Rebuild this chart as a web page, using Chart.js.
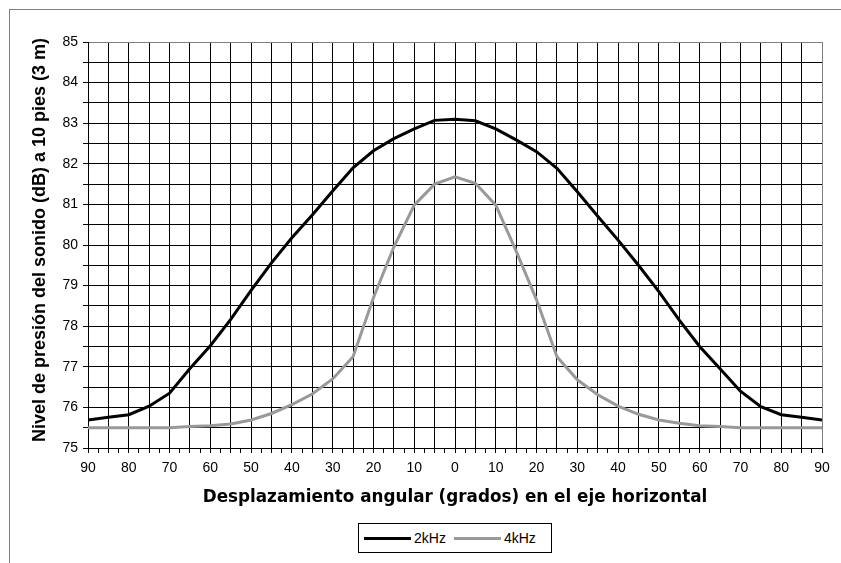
<!DOCTYPE html>
<html>
<head>
<meta charset="utf-8">
<script src="https://cdn.jsdelivr.net/npm/chart.js@4.4.1/dist/chart.umd.min.js"></script>
<style>
    body { margin: 0; background: #fff; overflow: hidden; }
    #wrap { position: relative; width: 841px; height: 563px; }
    #frame { position: absolute; left: 9px; top: 9px; width: 900px; height: 600px; border: 1px solid #808080; }
    #chart { position: absolute; left: 0; top: 0; }
    #legend {
        position: absolute; left: 358px; top: 523px; width: 192px; height: 28px;
        border: 1px solid #000; background: #fff;
        display: flex; align-items: center;
        font-family: 'Liberation Sans', Arial, sans-serif; font-size: 14px; color: #000;
    }
    .item { display: flex; align-items: center; }
    .swatch { width: 47px; height: 3px; margin-right: 3px; }
</style>
</head>
<body>
<div id="wrap">
    <div id="frame"></div>
    <canvas id="chart" width="841" height="563"></canvas>
    <div id="legend"></div>
</div>
<script>
// angular displacement, degrees (left side drawn as negative)
const angles = [-90, -85, -80, -75, -70, -65, -60, -55, -50, -45, -40, -35, -30, -25, -20, -15, -10, -5,
    0, 5, 10, 15, 20, 25, 30, 35, 40, 45, 50, 55, 60, 65, 70, 75, 80, 85, 90];

const seriesNames = ['2kHz', '4kHz'];
const seriesColors = ['#000000', '#999999'];

const spl2k = [75.69, 75.76, 75.82, 76.03, 76.35, 76.96, 77.52, 78.17, 78.88, 79.56, 80.18, 80.74, 81.33, 81.90, 82.32, 82.62, 82.86, 83.07,
    83.10, 83.06, 82.86, 82.59, 82.30, 81.89, 81.31, 80.71, 80.12, 79.50, 78.85, 78.15, 77.50, 76.95, 76.40, 76.02, 75.82, 75.76, 75.69];

const spl4k = [75.50, 75.50, 75.50, 75.50, 75.50, 75.53, 75.55, 75.59, 75.69, 75.85, 76.07, 76.33, 76.70, 77.25, 78.70, 79.95, 80.98, 81.50,
    81.68, 81.52, 80.98, 79.85, 78.65, 77.25, 76.68, 76.31, 76.03, 75.83, 75.69, 75.61, 75.55, 75.53, 75.50, 75.50, 75.50, 75.50, 75.50];

const yMin = 75, yMax = 85;
const xMin = -90, xMax = 90;

const yTitle = 'Nivel de presión del sonido (dB) a 10 pies (3 m)';
const xTitle = 'Desplazamiento angular (grados) en el eje horizontal';

const fontFamily = "'Liberation Sans', Arial, sans-serif";

function toPoints(values) {
    return values.map((v, i) => ({ x: angles[i], y: v }));
}

// vertical axis title, drawn by hand so it sits where the original has it
const yTitlePlugin = {
    id: 'yTitle',
    afterDraw(chart) {
        const c = chart.ctx;
        const area = chart.chartArea;
        c.save();
        c.translate(40, (area.top + area.bottom) / 2 - 5);
        c.rotate(-Math.PI / 2);
        c.font = 'bold 18px ' + fontFamily;
        c.fillStyle = '#000';
        c.textAlign = 'center';
        c.textBaseline = 'middle';
        c.fillText(yTitle, 0, 0);
        c.restore();
    }
};

const ctx = document.getElementById('chart').getContext('2d');
const chart = new Chart(ctx, {
    type: 'line',
    data: {
        datasets: [
            { label: seriesNames[0], data: toPoints(spl2k), borderColor: seriesColors[0], borderWidth: 3, pointRadius: 0, tension: 0, fill: false },
            { label: seriesNames[1], data: toPoints(spl4k), borderColor: seriesColors[1], borderWidth: 3, pointRadius: 0, tension: 0, fill: false }
        ]
    },
    options: {
        responsive: false,
        animation: false,
        devicePixelRatio: 1,
        layout: {
            padding: { left: 0, right: 19, top: 42, bottom: 55 }
        },
        plugins: {
            legend: { display: false },
            tooltip: { enabled: false }
        },
        scales: {
            x: {
                type: 'linear',
                min: xMin,
                max: xMax,
                afterFit: scale => { scale.height = 60; },
                ticks: {
                    stepSize: 2.5,
                    autoSkip: false,
                    maxRotation: 0,
                    padding: 7,
                    color: '#000',
                    font: { family: fontFamily, size: 14 },
                    callback: v => (v % 10 === 0 ? String(Math.abs(v)) : '')
                },
                grid: {
                    color: c => {
                        const v = c.tick ? c.tick.value : 0;
                        if (v === xMax) return '#808080';
                        return v % 5 === 0 ? '#000' : 'rgba(0,0,0,0)';
                    },
                    tickColor: '#000',
                    tickLength: 5,
                    lineWidth: 1
                },
                border: { color: '#000', width: 1 },
                title: {
                    display: true,
                    text: xTitle,
                    color: '#000',
                    font: { family: "'DejaVu Sans', sans-serif", size: 16.8, weight: 'bold' },
                    padding: { top: 0, bottom: 0 }
                }
            },
            y: {
                min: yMin,
                max: yMax,
                afterFit: scale => { scale.width = 88; },
                ticks: {
                    stepSize: 0.5,
                    padding: 5,
                    color: '#000',
                    font: { family: fontFamily, size: 14 },
                    callback: v => (Number.isInteger(v) ? String(v) : '')
                },
                grid: {
                    color: c => (c.tick && c.tick.value === yMax ? '#808080' : '#000'),
                    tickColor: '#000',
                    tickLength: 5,
                    lineWidth: 1
                },
                border: { color: '#000', width: 1 }
            }
        }
    },
    plugins: [yTitlePlugin]
});

// Legend box like the original
const legend = document.getElementById('legend');
seriesNames.forEach((name, i) => {
    const item = document.createElement('div');
    item.className = 'item';
    item.style.marginLeft = i === 0 ? '5px' : '8px';
    const sw = document.createElement('span');
    sw.className = 'swatch';
    sw.style.background = seriesColors[i];
    const label = document.createElement('span');
    label.textContent = name;
    item.appendChild(sw);
    item.appendChild(label);
    legend.appendChild(item);
});
</script>
</body>
</html>
